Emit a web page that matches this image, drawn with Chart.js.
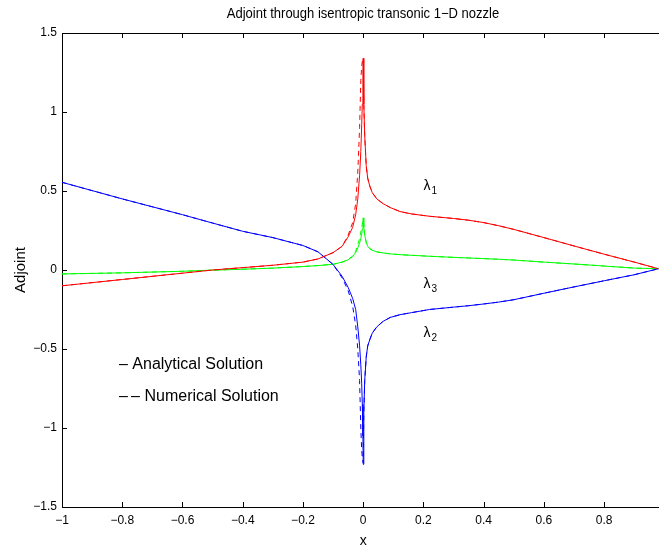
<!DOCTYPE html>
<html>
<head>
<meta charset="utf-8">
<title>Adjoint through isentropic transonic 1-D nozzle</title>
<script src="https://cdn.jsdelivr.net/npm/chart.js@4.4.1/dist/chart.umd.min.js"></script>
<style>
  html, body { margin: 0; padding: 0; background: #fff; overflow: hidden; }
  canvas { display: block; }
</style>
</head>
<body>
<canvas id="adjointChart" width="659" height="548"></canvas>
<script>
// x positions along the nozzle (shared by all curves)
const xs = [-1, -0.8, -0.6, -0.5, -0.4, -0.3, -0.2, -0.15, -0.1, -0.07, -0.05, -0.035, -0.025, -0.018, -0.012, -0.008, -0.005, -0.003, -0.001, 0,
            0.002, 0.005, 0.01, 0.015, 0.022, 0.03, 0.045, 0.066, 0.09, 0.122, 0.16, 0.22, 0.3, 0.35, 0.4, 0.45, 0.5, 0.6, 0.7, 0.8, 0.9, 0.98];

// analytical solution
const lambda1 = [-0.10, -0.06, -0.02, 0.0, 0.015, 0.03, 0.05, 0.07, 0.11, 0.15, 0.21, 0.27, 0.35, 0.45, 0.6, 0.75, 0.92, 1.05, 1.22, 1.34,
                 1.05, 0.85, 0.66, 0.58, 0.53, 0.49, 0.45, 0.42, 0.395, 0.37, 0.355, 0.34, 0.326, 0.315, 0.3, 0.28, 0.257, 0.205, 0.152, 0.1, 0.05, 0.008];
const lambda2 = [0.555, 0.45, 0.35, 0.297, 0.245, 0.205, 0.155, 0.115, 0.035, -0.04, -0.11, -0.18, -0.25, -0.36, -0.48, -0.6, -0.72, -0.85, -1.05, -1.23,
                 -0.9, -0.7, -0.55, -0.48, -0.44, -0.4, -0.36, -0.325, -0.3, -0.283, -0.27, -0.25, -0.235, -0.226, -0.215, -0.203, -0.188, -0.147, -0.107, -0.068, -0.03, 0.008];
const lambda3 = [-0.025, -0.018, -0.008, -0.001, 0.005, 0.012, 0.022, 0.028, 0.036, 0.05, 0.065, 0.085, 0.11, 0.14, 0.17, 0.2, 0.23, 0.26, 0.3, 0.33,
                 0.27, 0.22, 0.175, 0.15, 0.135, 0.125, 0.115, 0.108, 0.102, 0.097, 0.093, 0.087, 0.08, 0.076, 0.072, 0.068, 0.063, 0.05, 0.038, 0.025, 0.012, 0.008];

// numerical solution (differs only close to the throat)
const lambda1Num = [-0.10, -0.06, -0.02, 0.0, 0.015, 0.03, 0.05, 0.07, 0.11, 0.15, 0.22, 0.3, 0.42, 0.62, 0.9, 1.2, 1.29, 1.32, 1.33, 1.34,
                    1.05, 0.85, 0.66, 0.58, 0.53, 0.49, 0.45, 0.42, 0.395, 0.37, 0.355, 0.34, 0.326, 0.315, 0.3, 0.28, 0.257, 0.205, 0.152, 0.1, 0.05, 0.008];
const lambda2Num = [0.555, 0.45, 0.35, 0.297, 0.245, 0.205, 0.155, 0.115, 0.035, -0.05, -0.13, -0.23, -0.35, -0.5, -0.7, -1.0, -1.14, -1.19, -1.21, -1.22,
                    -0.9, -0.7, -0.55, -0.48, -0.44, -0.4, -0.36, -0.325, -0.3, -0.283, -0.27, -0.25, -0.235, -0.226, -0.215, -0.203, -0.188, -0.147, -0.107, -0.068, -0.03, 0.008];
const lambda3Num = [-0.025, -0.018, -0.008, -0.001, 0.005, 0.012, 0.022, 0.028, 0.036, 0.05, 0.065, 0.09, 0.12, 0.16, 0.2, 0.24, 0.27, 0.29, 0.31, 0.32,
                    0.27, 0.22, 0.175, 0.15, 0.135, 0.125, 0.115, 0.108, 0.102, 0.097, 0.093, 0.087, 0.08, 0.076, 0.072, 0.068, 0.063, 0.05, 0.038, 0.025, 0.012, 0.008];

const xTicks = [-1, -0.8, -0.6, -0.4, -0.2, 0, 0.2, 0.4, 0.6, 0.8];
const yTicks = [-1.5, -1, -0.5, 0, 0.5, 1, 1.5];

const curveLabels = [
    { name: '1', x: 0.2, y: 0.53 },
    { name: '3', x: 0.2, y: -0.09 },
    { name: '2', x: 0.2, y: -0.40 }
];

const FONT = '"Liberation Sans", Arial, Helvetica, sans-serif';

function toPoints(ys) {
    return xs.map((x, i) => ({ x: x, y: ys[i] }));
}

function fmt(v) {
    return String(v).replace('-', '\u2212');
}

function lineSet(label, ys, color, dashed) {
    return {
        label: label,
        data: toPoints(ys),
        showLine: true,
        borderColor: color,
        backgroundColor: color,
        borderWidth: 1,
        borderDash: dashed ? [5, 4] : [],
        pointRadius: 0,
        tension: 0,
        fill: false
    };
}

// frame, inward ticks and free text (MATLAB look)
const matlabDecor = {
    id: 'matlabDecor',
    afterDraw(chart) {
        const ctx = chart.ctx;
        const area = chart.chartArea;
        const sx = chart.scales.x;
        const sy = chart.scales.y;
        ctx.save();

        ctx.strokeStyle = '#000';
        ctx.lineWidth = 1;
        ctx.beginPath();
        ctx.moveTo(area.left, area.top + 0.5);
        ctx.lineTo(area.right, area.top + 0.5);
        xTicks.forEach(v => {
            const px = Math.round(sx.getPixelForValue(v)) + 0.5;
            ctx.moveTo(px, area.bottom);
            ctx.lineTo(px, area.bottom - 5);
            ctx.moveTo(px, area.top);
            ctx.lineTo(px, area.top + 5);
        });
        yTicks.forEach(v => {
            const py = Math.round(sy.getPixelForValue(v)) + 0.5;
            ctx.moveTo(area.left, py);
            ctx.lineTo(area.left + 5, py);
        });
        ctx.stroke();

        ctx.fillStyle = '#000';
        ctx.textAlign = 'center';
        ctx.textBaseline = 'middle';

        // title: slightly condensed like the original export
        ctx.save();
        ctx.translate(363, 14);
        ctx.scale(0.93, 1);
        ctx.font = '14px ' + FONT;
        ctx.fillText('Adjoint through isentropic transonic 1\u2212D nozzle', 0, 0);
        ctx.restore();

        ctx.font = '14px ' + FONT;
        ctx.fillText('x', sx.getPixelForValue(0), 541);

        ctx.save();
        ctx.translate(21, 270);
        ctx.rotate(-Math.PI / 2);
        ctx.font = '15px ' + FONT;
        ctx.fillText('Adjoint', 0, 0);
        ctx.restore();

        // lambda labels
        curveLabels.forEach(c => {
            const px = sx.getPixelForValue(c.x);
            const py = sy.getPixelForValue(c.y);
            ctx.textAlign = 'left';
            ctx.font = '14px ' + FONT;
            ctx.fillText('\u03bb', px, py);
            ctx.font = '10px ' + FONT;
            ctx.fillText(c.name, px + 8, py + 5);
        });

        // legend text
        ctx.textAlign = 'left';
        ctx.font = '16px ' + FONT;
        ctx.fillText('\u2013 Analytical Solution', 119, 365);
        ctx.fillText('\u2013\u2009\u2013 Numerical Solution', 119, 397);

        ctx.restore();
    }
};

const ctx = document.getElementById('adjointChart').getContext('2d');
new Chart(ctx, {
    type: 'scatter',
    data: {
        datasets: [
            lineSet('lambda1', lambda1, '#ff0000', false),
            lineSet('lambda2', lambda2, '#0000ff', false),
            lineSet('lambda3', lambda3, '#00ff00', false),
            lineSet('lambda1 numerical', lambda1Num, '#ff0000', true),
            lineSet('lambda2 numerical', lambda2Num, '#0000ff', true),
            lineSet('lambda3 numerical', lambda3Num, '#00ff00', true)
        ]
    },
    options: {
        responsive: false,
        animation: false,
        devicePixelRatio: 1,
        layout: { padding: { top: 33, right: 0, bottom: 0, left: 0 } },
        plugins: {
            legend: { display: false },
            tooltip: { enabled: false },
            title: { display: false }
        },
        scales: {
            x: {
                type: 'linear',
                min: -1,
                max: 0.982,
                afterBuildTicks: scale => { scale.ticks = xTicks.map(v => ({ value: v })); },
                afterFit: scale => { scale.height = 41; },
                grid: { display: false, drawTicks: false },
                border: { display: true, color: '#000', width: 1 },
                ticks: {
                    color: '#000',
                    font: { family: FONT, size: 12 },
                    padding: 6,
                    maxRotation: 0,
                    autoSkip: false,
                    callback: v => fmt(v)
                }
            },
            y: {
                type: 'linear',
                min: -1.5,
                max: 1.5,
                afterBuildTicks: scale => { scale.ticks = yTicks.map(v => ({ value: v })); },
                afterFit: scale => { scale.width = 62; },
                grid: { display: false, drawTicks: false },
                border: { display: true, color: '#000', width: 1 },
                ticks: {
                    color: '#000',
                    font: { family: FONT, size: 12 },
                    padding: 5,
                    autoSkip: false,
                    callback: v => fmt(v)
                }
            }
        }
    },
    plugins: [matlabDecor]
});
</script>
</body>
</html>
